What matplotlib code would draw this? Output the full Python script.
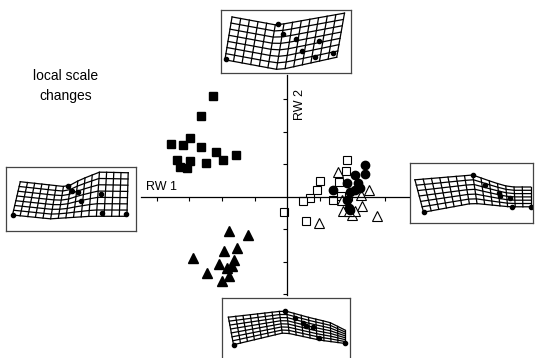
import numpy as np
import matplotlib
matplotlib.use('Agg')
import matplotlib.pyplot as plt

plt.rcParams['font.family'] = ['Liberation Sans', 'DejaVu Sans']

# scores RW1 / RW2
sq_fill_x = [-2.29, -2.65, -3.58, -3.21, -2.98, -2.64, -2.19, -1.97, -1.58, -3.39, -3.29, -3.09, -2.98, -2.50]
sq_fill_y = [3.11, 2.49, 1.63, 1.59, 1.81, 1.54, 1.37, 1.13, 1.28, 1.14, 0.93, 0.90, 1.11, 1.04]

tri_fill_x = [-1.78, -1.21, -2.88, -1.93, -1.53, -1.62, -2.08, -1.86, -1.70, -2.45, -1.78, -2.01]
tri_fill_y = [-1.04, -1.17, -1.89, -1.68, -1.58, -1.94, -2.06, -2.19, -2.14, -2.35, -2.43, -2.58]

sq_open_x = [1.84, 1.80, 1.02, 1.61, 0.93, 1.65, 0.71, 0.50, 1.42, -0.09, 0.58]
sq_open_y = [1.12, 0.81, 0.50, 0.46, 0.22, 0.03, -0.04, -0.14, -0.09, -0.48, -0.73]

tri_open_x = [1.58, 2.52, 2.27, 1.68, 2.30, 1.73, 2.01, 2.09, 1.89, 2.78, 0.99]
tri_open_y = [0.77, 0.22, 0.05, -0.09, -0.28, -0.43, -0.55, -0.43, -0.45, -0.58, -0.79]

circ_x = [2.40, 2.09, 2.40, 1.84, 2.19, 1.42, 1.94, 2.09, 2.25, 1.84, 1.89, 1.94]
circ_y = [0.99, 0.68, 0.70, 0.42, 0.42, 0.22, 0.16, 0.22, 0.27, -0.09, -0.35, -0.40]

x_ticks = [-4, -3, -2, -1, 1, 2, 3]
y_ticks = [-3, -2, -1, 1, 2, 3]

# deformation grids (box-local units): top edge, bottom edge, landmarks
grids = {
    'top': dict(box=[221, 10, 130, 63],
                top_u=[0.085, 0.43, 0.95], top_v=[0.89, 0.76, 0.95],
                bot_u=[0.03, 0.45, 0.89], bot_v=[0.21, 0.05, 0.25],
                lm_u=[0.04, 0.44, 0.48, 0.58, 0.62, 0.75, 0.72, 0.86],
                lm_v=[0.22, 0.78, 0.62, 0.54, 0.35, 0.51, 0.25, 0.32], ncol=14, nrow=8),
    'left': dict(box=[6, 167, 130, 64],
                 top_u=[0.11, 0.47, 0.57, 0.72, 0.94], top_v=[0.77, 0.69, 0.80, 0.92, 0.91],
                 bot_u=[0.05, 0.34, 0.65, 0.93], bot_v=[0.25, 0.19, 0.23, 0.23],
                 lm_u=[0.05, 0.48, 0.51, 0.55, 0.58, 0.73, 0.74, 0.92],
                 lm_v=[0.25, 0.70, 0.63, 0.61, 0.47, 0.58, 0.28, 0.27], ncol=16, nrow=8),
    'right': dict(box=[410, 163, 123, 60],
                  top_u=[0.04, 0.51, 0.69, 0.81, 0.98], top_v=[0.72, 0.80, 0.67, 0.60, 0.60],
                  bot_u=[0.11, 0.51, 0.81, 0.98], bot_v=[0.18, 0.33, 0.27, 0.27],
                  lm_u=[0.11, 0.51, 0.61, 0.72, 0.73, 0.81, 0.83, 0.98],
                  lm_v=[0.18, 0.80, 0.63, 0.50, 0.45, 0.42, 0.27, 0.27], ncol=15, nrow=7),
    'bottom': dict(box=[222, 298, 128, 64],
                   top_u=[0.05, 0.49, 0.69, 0.84, 0.96], top_v=[0.70, 0.80, 0.69, 0.62, 0.50],
                   bot_u=[0.09, 0.49, 0.77, 0.96], bot_v=[0.27, 0.46, 0.34, 0.29],
                   lm_u=[0.09, 0.49, 0.57, 0.63, 0.66, 0.71, 0.76, 0.96],
                   lm_v=[0.27, 0.80, 0.69, 0.61, 0.57, 0.54, 0.37, 0.29], ncol=17, nrow=8),
}

W, H = 535, 358
fig = plt.figure(figsize=(W / 100, H / 100), dpi=100)

# main scatter, axes crossing at origin
ax = fig.add_axes([141 / W, (H - 295) / H, 268 / W, 220 / H])
ax.set_xlim(-4.49, 3.75)
ax.set_ylim(-3.02, 3.75)
ax.spines['left'].set_position(('data', 0))
ax.spines['bottom'].set_position(('data', 0))
ax.spines['top'].set_visible(False)
ax.spines['right'].set_visible(False)
for s in ['left', 'bottom']:
    ax.spines[s].set_linewidth(0.9)
ax.set_xticks(x_ticks)
ax.set_yticks(y_ticks)
ax.set_xticklabels([])
ax.set_yticklabels([])
ax.tick_params(direction='out', length=3, width=0.8)
ax.patch.set_alpha(0)

ax.plot(sq_fill_x, sq_fill_y, 's', color='black', ms=5.3, ls='none')
ax.plot(tri_fill_x, tri_fill_y, '^', color='black', ms=7, ls='none')
ax.plot(sq_open_x, sq_open_y, 's', mfc='white', mec='black', mew=0.8, ms=5.3, ls='none')
ax.plot(tri_open_x, tri_open_y, '^', mfc='white', mec='black', mew=0.8, ms=7.5, ls='none')
ax.plot(circ_x, circ_y, 'o', color='black', ms=6, ls='none')

ax.text(-4.35, 0.12, 'RW 1', fontsize=9, ha='left', va='bottom')
ax.text(0.22, 2.85, 'RW 2', fontsize=9, rotation=90, ha='left', va='center')

fig.text(66 / W, 1 - 76 / H, 'local scale', fontsize=10, ha='center', va='center')
fig.text(66 / W, 1 - 96 / H, 'changes', fontsize=10, ha='center', va='center')

# grid insets
for name, g in grids.items():
    x0, y0, w, h = g['box']
    ia = fig.add_axes([x0 / W, 1 - (y0 + h) / H, w / W, h / H])
    ia.set_xlim(0, 1)
    ia.set_ylim(0, 1)
    ia.set_xticks([])
    ia.set_yticks([])
    for s in ia.spines.values():
        s.set_color('#444444')
        s.set_linewidth(0.9)
    n = g['ncol']
    tu = np.linspace(g['top_u'][0], g['top_u'][-1], n)
    tv = np.interp(tu, g['top_u'], g['top_v'])
    bu = np.linspace(g['bot_u'][0], g['bot_u'][-1], n)
    bv = np.interp(bu, g['bot_u'], g['bot_v'])
    for j in range(n):
        ia.plot([tu[j], bu[j]], [tv[j], bv[j]], color='black', lw=0.9)
    for f in np.linspace(0, 1, g['nrow']):
        ia.plot(tu + f * (bu - tu), tv + f * (bv - tv), color='black', lw=0.9)
    ia.plot(g['lm_u'], g['lm_v'], 'o', color='black', ms=3, ls='none')

fig.savefig('out.png', dpi=100)
